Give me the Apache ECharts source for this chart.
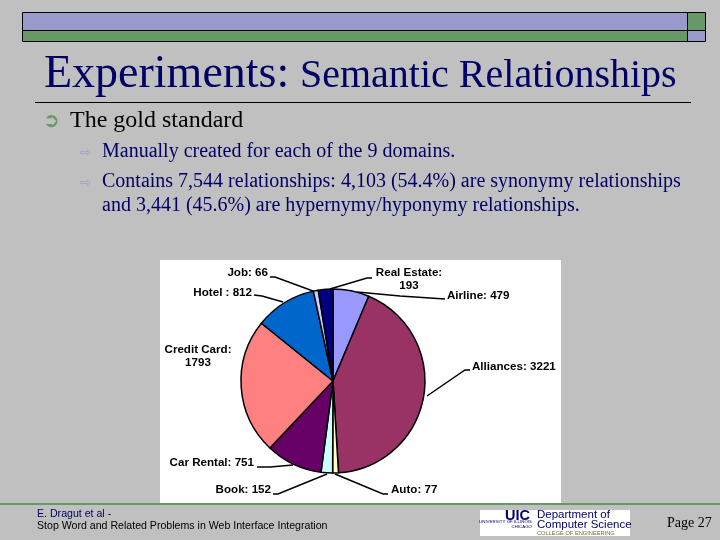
<!DOCTYPE html>
<html lang="en">
<head>
    <meta charset="UTF-8">
    <title>Experiments: Semantic Relationships</title>
    <script type="text/javascript" src="https://cdn.jsdelivr.net/npm/echarts@6/dist/echarts.min.js"></script>
    <style>
        html, body { margin: 0; padding: 0; background: #c0c0c0; }
        #main { width: 720px; height: 540px; }
    </style>
</head>
<body>
<div id="main"></div>
<script>
    // pie data, clockwise from 12 o'clock
    let domains = ['Airline', 'Alliances', 'Auto', 'Book', 'Car Rental', 'Credit Card', 'Hotel', 'Job', 'Real Estate'];
    let counts = [479, 3221, 77, 152, 751, 1793, 812, 66, 193];
    let separators = [': ', ': ', ': ', ': ', ': ', ':\n', ' : ', ': ', ':\n'];
    let sliceColors = ['#9999ff', '#993366', '#ffffcc', '#ccffff', '#660066', '#ff8080', '#0066cc', '#ccccff', '#000080'];

    // slide text
    let subBullets = [
        'Manually created for each of the 9 domains.',
        'Contains 7,544 relationships: 4,103 (54.4%) are synonymy relationships',
        'and 3,441 (45.6%) are hypernymy/hyponymy relationships.'
    ];

    // label position and leader line for each slice, in page pixels
    let labelSpots = [
        {x: 447, y: 296, align: 'left', line: [[357, 292], [400, 296], [445, 299]]},
        {x: 472, y: 367, align: 'left', line: [[427, 396], [465, 370], [470, 370]]},
        {x: 391, y: 490, align: 'left', line: [[335, 474], [383, 494], [388, 494]]},
        {x: 271, y: 490, align: 'right', line: [[327, 474], [278, 494], [273, 494]]},
        {x: 254, y: 463, align: 'right', line: [[293, 465], [270, 467], [257, 467]]},
        {x: 198, y: 356, align: 'center', line: null},
        {x: 252, y: 293, align: 'right', line: [[283, 302], [262, 296], [254, 295]]},
        {x: 268, y: 273, align: 'right', line: [[313, 291], [275, 277], [270, 277]]},
        {x: 409, y: 279, align: 'center', line: [[330, 289], [367, 278], [372, 278]]}
    ];

    let pieData = domains.map(function (name, i) {
        return {
            name: name,
            value: counts[i],
            itemStyle: {color: sliceColors[i]},
            labelLine: {show: labelSpots[i].line !== null}
        };
    });

    function rect(x, y, w, h, fill, stroke, lineWidth) {
        return {
            type: 'rect', z: 0, silent: true,
            shape: {x: x, y: y, width: w, height: h},
            style: {fill: fill, stroke: stroke || null, lineWidth: lineWidth || 0}
        };
    }
    function text(x, y, str, font, color, align) {
        return {
            type: 'text', z: 5, silent: true, x: x, y: y,
            style: {text: str, font: font, fill: color, textAlign: align || 'left', textVerticalAlign: 'middle'}
        };
    }

    let serif = '"Liberation Serif"';
    let sans = '"Liberation Sans"';
    let navy = '#000066';

    let slide = [
        // header bars
        rect(22.5, 12.5, 665, 18, '#9999cc', '#000', 1),
        rect(22.5, 30.5, 665, 11, '#669966', '#000', 1),
        rect(687.5, 12.5, 18, 18, '#669966', '#000', 1),
        rect(687.5, 30.5, 18, 11, '#9999cc', '#000', 1),
        // title
        text(44, 75, 'Experiments:', '46px ' + serif, navy),
        text(300, 76, 'Semantic Relationships', '40px ' + serif, navy),
        rect(35, 102, 656, 1, '#000'),
        // bullets
        text(43, 122, '\u27b2', '20px "DejaVu Sans"', '#669966'),
        text(70, 121, 'The gold standard', '24px ' + serif, '#000'),
        text(80, 153, '\u21e8', '14px "DejaVu Sans"', '#a3a3c8'),
        text(102, 152, subBullets[0], '20px ' + serif, navy),
        text(80, 183, '\u21e8', '14px "DejaVu Sans"', '#a3a3c8'),
        text(102, 182, subBullets[1], '20px ' + serif, navy),
        text(102, 206, subBullets[2], '20px ' + serif, navy),
        // picture background
        rect(160, 260, 401, 244, '#fff'),
        // footer
        rect(0, 503, 720, 2, '#669966'),
        text(37, 514, 'E. Dragut et al -', '10.6px ' + sans, navy),
        text(37, 526, 'Stop Word and Related Problems in Web Interface Integration', '10.6px ' + sans, '#000'),
        rect(480, 510, 150, 26, '#fff'),
        text(505, 516, 'UIC', 'bold 14.5px ' + sans, navy),
        text(537, 515, 'Department of', '11.5px ' + sans, navy),
        text(532, 522, 'UNIVERSITY OF ILLINOIS', '4.4px ' + sans, navy, 'right'),
        text(532, 527, 'CHICAGO', '4.4px ' + sans, navy, 'right'),
        text(537, 525, 'Computer Science', '11.5px ' + sans, navy),
        text(537, 533, 'COLLEGE OF ENGINEERING', '5.7px ' + sans, '#7a6a30'),
        text(667, 523, 'Page 27', '14px ' + serif, '#000')
    ];

    let chartDom = document.getElementById('main');
    let myChart = echarts.init(chartDom);
    let option = {
        backgroundColor: '#c0c0c0',
        animation: false,
        graphic: {elements: slide},
        series: {
            type: 'pie',
            center: [333, 381],
            radius: [0, 92],
            startAngle: 90,
            clockwise: true,
            avoidLabelOverlap: false,
            data: pieData,
            z: 3,
            itemStyle: {borderColor: '#000', borderWidth: 1.5},
            label: {
                show: true,
                color: '#000',
                fontFamily: sans,
                fontWeight: 'bold',
                fontSize: 11.6,
                lineHeight: 13,
                formatter: function (p) {
                    return p.name + separators[p.dataIndex] + p.value;
                }
            },
            labelLine: {show: true, lineStyle: {color: '#000', width: 1.5}},
            labelLayout: function (p) {
                let s = labelSpots[p.dataIndex];
                let res = {x: s.x, y: s.y, align: s.align, verticalAlign: 'middle'};
                if (s.line) res.labelLinePoints = s.line;
                return res;
            }
        }
    };
    myChart.setOption(option);
</script>
</body>
</html>
